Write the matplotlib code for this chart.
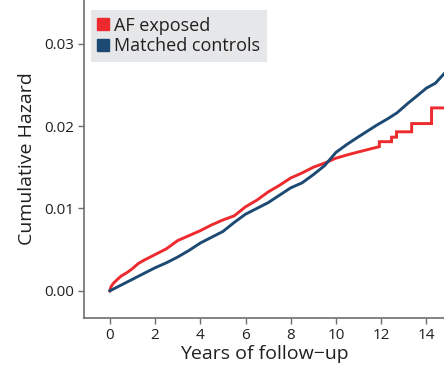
import matplotlib
matplotlib.use('Agg')
import matplotlib.pyplot as plt
from matplotlib.lines import Line2D

plt.rcParams['font.family'] = ['Open Sans', 'DejaVu Sans']

# AF exposed (red), steps given as repeated x
t_af = [0, 0.05, 0.15, 0.3, 0.5, 0.75, 1, 1.25, 1.5, 2, 2.5, 3, 3.5, 4, 4.5, 5, 5.5,
        6, 6.5, 7, 7.5, 8, 8.5, 9, 9.5, 10, 10.5, 11.2, 11.92, 11.92, 12.46, 12.46,
        12.68, 12.68, 13.35, 13.35, 14.23, 14.23, 14.8]
h_af = [0, 0.0005, 0.0009, 0.0013, 0.0018, 0.0022, 0.0027, 0.0033, 0.0037, 0.0044,
        0.0051, 0.0061, 0.0067, 0.0073, 0.0080, 0.0086, 0.0091, 0.0102, 0.0110,
        0.0120, 0.0128, 0.0137, 0.0143, 0.0150, 0.0155, 0.0161, 0.0165, 0.0170,
        0.0175, 0.0181, 0.0181, 0.01865, 0.01865, 0.0193, 0.0193, 0.0203, 0.0203,
        0.0222, 0.0222]

# Matched controls (blue)
t_ctl = [0, 0.5, 1, 1.5, 2, 2.5, 3, 3.5, 4, 4.5, 5, 5.5, 6, 6.5, 7, 7.5, 8, 8.5, 9,
         9.5, 10, 10.5, 11, 11.8, 12.3, 12.7, 13.2, 13.65, 14, 14.4, 14.8]
h_ctl = [0, 0.0007, 0.0014, 0.0021, 0.0028, 0.0034, 0.0041, 0.0049, 0.0058, 0.0065,
         0.0072, 0.0083, 0.0093, 0.0100, 0.0107, 0.0116, 0.0125, 0.0131, 0.0141,
         0.0152, 0.0168, 0.0178, 0.0187, 0.0201, 0.0209, 0.0216, 0.0228, 0.0238,
         0.0246, 0.0252, 0.0264]

red = '#ed2a2e'
blue = '#1c4a73'
txt = '#231f20'

fig = plt.figure(figsize=(4.44, 3.73), dpi=100)
ax = fig.add_axes([0.189, 0.1475, 0.811, 0.8525])

ax.plot(t_af, h_af, color=red, lw=2.1, solid_joinstyle='miter')
ax.plot(t_ctl, h_ctl, color=blue, lw=2.1)

ax.set_xlim(-1.15, 14.78)
ax.set_ylim(-0.0033, 0.0353)
ax.set_xticks([0, 2, 4, 6, 8, 10, 12, 14])
ax.set_yticks([0.0, 0.01, 0.02, 0.03])
ax.set_yticklabels(['0.00', '0.01', '0.02', '0.03'])

for s in ['top', 'right']:
    ax.spines[s].set_visible(False)
for s in ['left', 'bottom']:
    ax.spines[s].set_color('#6d6e71')
    ax.spines[s].set_linewidth(1.2)
ax.tick_params(direction='out', length=4, width=1, color='#6d6e71',
               labelsize=11, labelcolor=txt, pad=3)

ax.set_xlabel('Years of follow\u2212up', fontsize=14, color=txt, labelpad=2)
ax.set_ylabel('Cumulative Hazard', fontsize=14, color=txt, labelpad=6)

handles = [Line2D([], [], ls='', marker='s', ms=9, mfc=red, mec=red),
           Line2D([], [], ls='', marker='s', ms=9, mfc=blue, mec=blue)]
leg = ax.legend(handles, ['AF exposed', 'Matched controls'], loc='upper left',
                bbox_to_anchor=(0.019, 0.97), fontsize=13, frameon=True,
                fancybox=False, handlelength=0.6, handletextpad=0.3,
                labelspacing=0.12, borderpad=0.4, borderaxespad=0)
leg.get_frame().set_facecolor('#e6e7e8')
leg.get_frame().set_edgecolor('none')
leg.get_frame().set_alpha(1)
for t in leg.get_texts():
    t.set_color(txt)

fig.savefig('out.png', dpi=100)
